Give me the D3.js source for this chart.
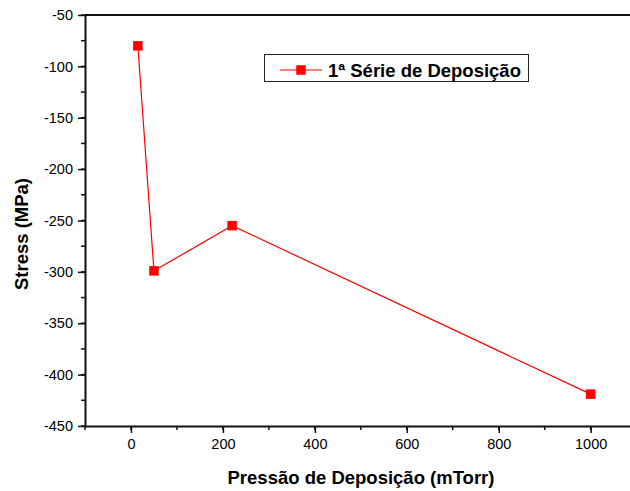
<!DOCTYPE html>
<html>
<head>
<meta charset="utf-8">
<script src="https://cdn.jsdelivr.net/npm/d3@7"></script>
<style>
  html, body { margin: 0; padding: 0; background: #fff; }
  svg { display: block; font-family: "Liberation Sans", Arial, sans-serif; }
</style>
</head>
<body>
<svg id="chart" width="630" height="491"></svg>
<script>
// Deposition pressure (mTorr) vs. film stress (MPa)
const pressure = [15, 50, 220, 1000];
const stress = [-80, -299, -255, -419];
const seriesName = "1ª Série de Deposição";
const xTicks = [0, 200, 400, 600, 800, 1000];
const yTicks = [-50, -100, -150, -200, -250, -300, -350, -400, -450];

const svg = d3.select("#chart");
const plotLeft = 85, plotTop = 15, plotBottom = 426;

const x = d3.scaleLinear().domain([-100, 1100]).range([plotLeft, plotLeft + 1200 * 0.4597]);
const y = d3.scaleLinear().domain([-450, -50]).range([plotBottom, plotTop]);

const axisColor = "#111";
const plain = d => String(d);   // plain hyphen-minus, no thousands separator

// frame: top edge
svg.append("line").attr("x1", plotLeft).attr("x2", x.range()[1]).attr("y1", plotTop).attr("y2", plotTop)
  .attr("stroke", axisColor).attr("stroke-width", 2);

// minor ticks
const xMinor = d3.range(-100, 1101, 100);
const yMinor = d3.range(-450, -49, 25);

const gx = svg.append("g").attr("transform", `translate(0,${plotBottom})`);
gx.selectAll("line.minor").data(xMinor).join("line")
  .attr("x1", d => x(d)).attr("x2", d => x(d)).attr("y1", 0).attr("y2", 4)
  .attr("stroke", axisColor).attr("stroke-width", 1.5);
gx.call(d3.axisBottom(x).tickValues(xTicks).tickFormat(plain).tickSize(7).tickSizeOuter(0).tickPadding(6))
  .call(g => g.select(".domain").attr("stroke", axisColor).attr("stroke-width", 2))
  .call(g => g.selectAll(".tick line").attr("stroke", axisColor).attr("stroke-width", 1.5))
  .call(g => g.selectAll(".tick text").attr("font-size", 14.5).attr("fill", "#000")
    .attr("font-family", "Liberation Sans, Arial, sans-serif"));

const gy = svg.append("g").attr("transform", `translate(${plotLeft},0)`);
gy.selectAll("line.minor").data(yMinor).join("line")
  .attr("x1", 0).attr("x2", -4).attr("y1", d => y(d)).attr("y2", d => y(d))
  .attr("stroke", axisColor).attr("stroke-width", 1.5);
gy.call(d3.axisLeft(y).tickValues(yTicks).tickFormat(plain).tickSize(7).tickSizeOuter(0).tickPadding(5))
  .call(g => g.select(".domain").attr("stroke", axisColor).attr("stroke-width", 2))
  .call(g => g.selectAll(".tick line").attr("stroke", axisColor).attr("stroke-width", 1.5))
  .call(g => g.selectAll(".tick text").attr("font-size", 14.5).attr("fill", "#000")
    .attr("font-family", "Liberation Sans, Arial, sans-serif"));

// data line and markers
const data = pressure.map((p, i) => ({ p, s: stress[i] }));
svg.append("path").datum(data)
  .attr("d", d3.line().x(d => x(d.p)).y(d => y(d.s)))
  .attr("fill", "none").attr("stroke", "#ff0000").attr("stroke-width", 1.2);
const ms = 9.5;
svg.selectAll("rect.pt").data(data).join("rect")
  .attr("x", d => x(d.p) - ms / 2).attr("y", d => y(d.s) - ms / 2)
  .attr("width", ms).attr("height", ms).attr("fill", "#ff0000");

// axis titles
svg.append("text").attr("x", 361).attr("y", 484).attr("text-anchor", "middle")
  .attr("font-size", 18.5).attr("font-weight", "bold").text("Pressão de Deposição (mTorr)");
svg.append("text").attr("transform", "translate(28,234) rotate(-90)").attr("text-anchor", "middle")
  .attr("font-size", 18.5).attr("font-weight", "bold").text("Stress (MPa)");

// legend
const lg = svg.append("g");
lg.append("rect").attr("x", 264.5).attr("y", 54.5).attr("width", 264).attr("height", 27)
  .attr("fill", "#fff").attr("stroke", "#222").attr("stroke-width", 1);
lg.append("line").attr("x1", 280).attr("x2", 322).attr("y1", 70).attr("y2", 70)
  .attr("stroke", "#ff0000").attr("stroke-width", 1.2);
lg.append("rect").attr("x", 301 - ms / 2).attr("y", 70 - ms / 2).attr("width", ms).attr("height", ms)
  .attr("fill", "#ff0000");
lg.append("text").attr("x", 328).attr("y", 76.5).attr("font-size", 18.5).attr("font-weight", "bold")
  .text(seriesName);
</script>
</body>
</html>
